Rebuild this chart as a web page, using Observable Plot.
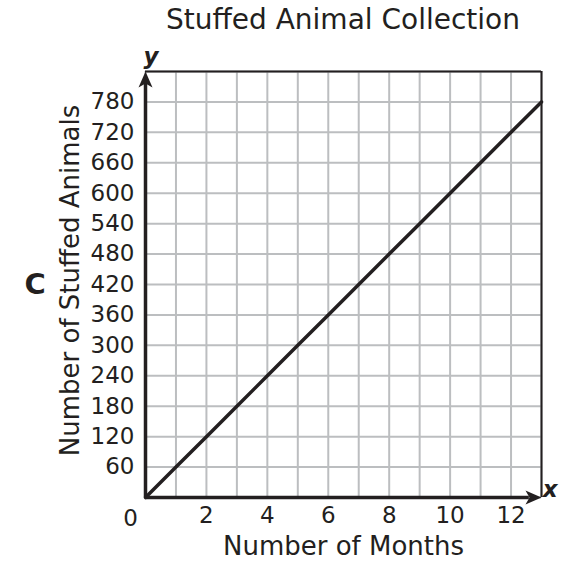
<!DOCTYPE html>
<html>
<head>
<meta charset="utf-8">
<script src="https://cdn.jsdelivr.net/npm/d3@7"></script>
<script src="https://cdn.jsdelivr.net/npm/@observablehq/plot@0.6"></script>
<style>
  body { margin: 0; background: #fff; font-family: "DejaVu Sans", Verdana, sans-serif; color: #231f20; }
  #title { margin-left: 145px; width: 396px; height: 40px; line-height: 40px; text-align: center; font-size: 28px; white-space: nowrap; }
</style>
</head>
<body>
<div id="title">Stuffed Animal Collection</div>
<div id="chart"></div>
<script>
// Data
const months = [0, 1, 2, 3, 4, 5, 6, 7, 8, 9, 10, 11, 12, 13];
const animals = [0, 60, 120, 180, 240, 300, 360, 420, 480, 540, 600, 660, 720, 780];
const xTickLabels = [2, 4, 6, 8, 10, 12];
const yTickLabels = [60, 120, 180, 240, 300, 360, 420, 480, 540, 600, 660, 720, 780];
const xGrid = [0, 1, 2, 3, 4, 5, 6, 7, 8, 9, 10, 11, 12, 13];
const yGrid = [0, 60, 120, 180, 240, 300, 360, 420, 480, 540, 600, 660, 720, 780, 840];
const xDomain = [0, 13];
const yDomain = [0, 840];

const data = months.map((m, i) => ({month: m, count: animals[i]}));

const ink = "#231f20";
const gridColor = "#bcbec0";

const arrowUp = {draw(ctx) { ctx.moveTo(0, 0); ctx.lineTo(-7, 16); ctx.lineTo(0, 12); ctx.lineTo(7, 16); ctx.closePath(); }};
const arrowRight = {draw(ctx) { ctx.moveTo(0, 0); ctx.lineTo(-16, -7); ctx.lineTo(-12, 0); ctx.lineTo(-16, 7); ctx.closePath(); }};

const chart = Plot.plot({
  width: 566,
  height: 522,
  marginLeft: 145,
  marginRight: 25,
  marginTop: 31,
  marginBottom: 65,
  style: {fontFamily: "DejaVu Sans, Verdana, sans-serif", color: ink, background: "#fff", overflow: "visible"},
  x: {domain: xDomain},
  y: {domain: yDomain},
  marks: [
    Plot.gridX(xGrid, {stroke: gridColor, strokeOpacity: 1, strokeWidth: 2}),
    Plot.gridY(yGrid, {stroke: gridColor, strokeOpacity: 1, strokeWidth: 2}),
    Plot.ruleY([yDomain[1]], {stroke: ink, strokeWidth: 2}),
    Plot.ruleX([xDomain[1]], {stroke: ink, strokeWidth: 2}),
    Plot.axisX(xTickLabels, {tickSize: 0, tickPadding: 9, fontSize: 23, label: null, fill: ink}),
    Plot.axisY(yTickLabels, {tickSize: 0, tickPadding: 11, fontSize: 23, label: null, fill: ink}),
    Plot.text([0], {x: d => d, y: yDomain[0], dx: -15, dy: 21, fontSize: 23, fill: ink}),
    Plot.line(data, {x: "month", y: "count", stroke: ink, strokeWidth: 3.5}),
    Plot.ruleX([xDomain[0]], {stroke: ink, strokeWidth: 3.5, y1: yDomain[0], y2: yDomain[1] - 15}),
    Plot.ruleY([yDomain[0]], {stroke: ink, strokeWidth: 3.5, x1: xDomain[0], x2: xDomain[1] - 0.4}),
    Plot.dot([0], {x: xDomain[0], y: yDomain[1], symbol: arrowUp, fill: ink, stroke: null, r: 8}),
    Plot.dot([0], {x: xDomain[1], y: yDomain[0], symbol: arrowRight, fill: ink, stroke: null, r: 8}),
    Plot.text(["Number of Months"], {frameAnchor: "bottom", dy: 57, fontSize: 26, fill: ink}),
    Plot.text(["Number of Stuffed Animals"], {frameAnchor: "left", dx: -75, dy: -4, rotate: -90, textAnchor: "middle", fontSize: 26, fill: ink}),
    Plot.text(["C"], {frameAnchor: "left", dx: -121, fontSize: 29, fontWeight: "bold", fill: ink}),
    Plot.text(["y"], {frameAnchor: "top-left", dx: -2, dy: -24, fontSize: 23, fontWeight: "bold", fontStyle: "italic", fill: ink}),
    Plot.text(["x"], {frameAnchor: "bottom-right", dx: 16, dy: -1, fontSize: 23, fontWeight: "bold", fontStyle: "italic", fill: ink})
  ]
});
document.getElementById("chart").appendChild(chart);
</script>
</body>
</html>
